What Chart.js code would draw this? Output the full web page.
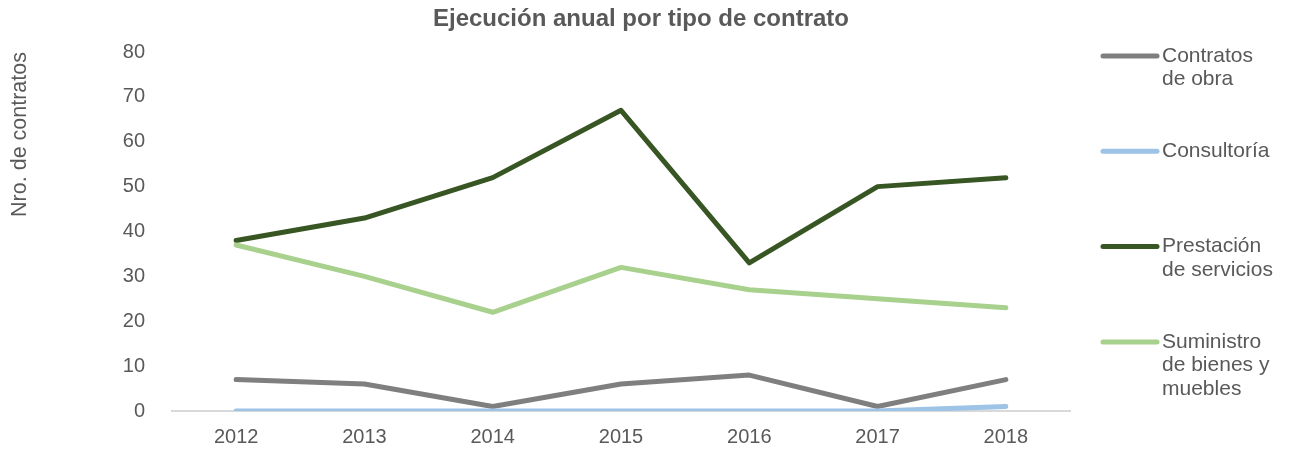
<!DOCTYPE html>
<html lang="es">
<head>
    <meta charset="UTF-8">
    <title>Ejecución anual por tipo de contrato</title>
    <script src="https://cdn.jsdelivr.net/npm/chart.js@4.4.1/dist/chart.umd.min.js"></script>
    <style>
        html, body { margin: 0; padding: 0; background: #ffffff; }
    </style>
</head>
<body>
    <canvas id="contractChart" width="1292" height="452"></canvas>

    <script>
        // Data
        const years = ['2012', '2013', '2014', '2015', '2016', '2017', '2018'];
        const contratosObra = [7, 6, 1, 6, 8, 1, 7];
        const consultoria = [0, 0, 0, 0, 0, 0, 1];
        const prestacionServicios = [38, 43, 52, 67, 33, 50, 52];
        const suministroBienes = [37, 30, 22, 32, 27, 25, 23];

        const seriesLabels = [
            ['Contratos', 'de obra'],
            ['Consultoría'],
            ['Prestación', 'de servicios'],
            ['Suministro', 'de bienes y', 'muebles']
        ];
        const seriesColors = ['#7f7f7f', '#9dc3e6', '#375623', '#a9d18e'];
        const chartTitle = 'Ejecución anual por tipo de contrato';
        const yAxisTitle = 'Nro. de contratos';
        const yMax = 80;
        const yStep = 10;

        const textColor = '#595959';
        const fontFamily = '"Liberation Sans", Arial, sans-serif';

        // title + side legend drawn by hand so the title stays centred on the whole canvas
        const titleAndLegend = {
            id: 'titleAndLegend',
            afterDraw(chart) {
                const ctx = chart.ctx;
                ctx.save();
                ctx.fillStyle = textColor;
                ctx.font = 'bold 24px ' + fontFamily;
                ctx.textAlign = 'center';
                ctx.textBaseline = 'middle';
                ctx.fillText(chartTitle, 641, 19);

                const lineX = chart.chartArea.right + 33;
                const firstY = 56;
                const gap = 95.3;
                ctx.font = '21px ' + fontFamily;
                ctx.textAlign = 'left';
                chart.data.datasets.forEach((ds, i) => {
                    const y = firstY + i * gap;
                    ctx.strokeStyle = ds.borderColor;
                    ctx.lineWidth = 5;
                    ctx.lineCap = 'round';
                    ctx.beginPath();
                    ctx.moveTo(lineX, y);
                    ctx.lineTo(lineX + 54, y);
                    ctx.stroke();
                    ctx.fillStyle = textColor;
                    seriesLabels[i].forEach((line, j) => {
                        ctx.fillText(line, lineX + 59, y + j * 23.5);
                    });
                });
                ctx.restore();
            }
        };

        const seriesData = [contratosObra, consultoria, prestacionServicios, suministroBienes];

        new Chart(document.getElementById('contractChart'), {
            type: 'line',
            data: {
                labels: years,
                datasets: seriesData.map((values, i) => ({
                    label: seriesLabels[i].join(' '),
                    data: values,
                    borderColor: seriesColors[i],
                    backgroundColor: seriesColors[i],
                    borderWidth: 5,
                    pointRadius: 0,
                    pointHoverRadius: 0,
                    tension: 0,
                    fill: false,
                    borderCapStyle: 'round',
                    borderJoinStyle: 'round',
                    order: seriesData.length - i
                }))
            },
            options: {
                responsive: false,
                animation: false,
                layout: {
                    padding: { left: 4, right: 222, top: 52, bottom: 0 }
                },
                plugins: {
                    legend: { display: false },
                    title: { display: false },
                    tooltip: { enabled: false }
                },
                scales: {
                    x: {
                        offset: true,
                        grid: { display: true, drawOnChartArea: false, drawTicks: false },
                        border: { display: true, color: '#d9d9d9', width: 2 },
                        ticks: {
                            color: textColor,
                            font: { family: fontFamily, size: 20 },
                            padding: 14,
                            maxRotation: 0
                        },
                        afterFit(scale) {
                            scale.height = 41;
                        }
                    },
                    y: {
                        min: 0,
                        max: yMax,
                        grid: { display: false },
                        border: { display: false },
                        ticks: {
                            stepSize: yStep,
                            color: textColor,
                            font: { family: fontFamily, size: 20 },
                            padding: 19
                        },
                        title: {
                            display: true,
                            text: yAxisTitle,
                            align: 'end',
                            color: textColor,
                            font: { family: fontFamily, size: 21.5 },
                            padding: { top: 3, bottom: 0 }
                        },
                        afterFit(scale) {
                            scale.width = 168;
                        }
                    }
                }
            },
            plugins: [titleAndLegend]
        });
    </script>
</body>
</html>
